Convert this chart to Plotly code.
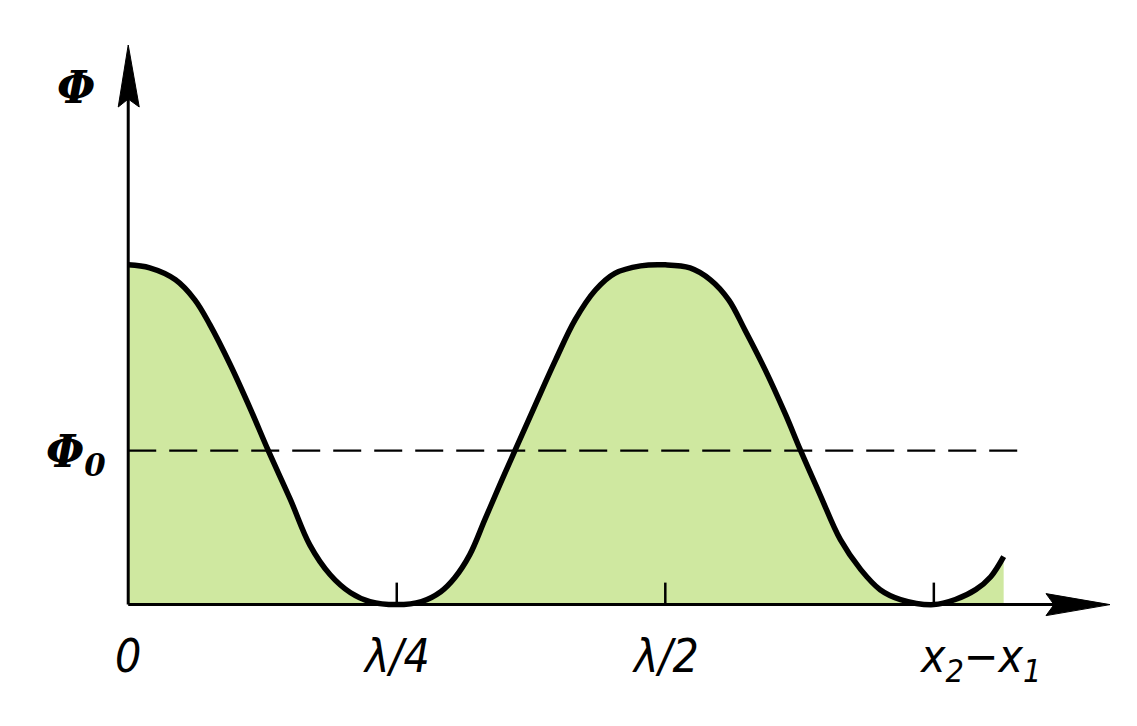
import plotly.graph_objects as go

# Path difference x2 - x1 in units of wavelength lambda
x_lambda = [0, 0.020, 0.044, 0.062, 0.076, 0.095, 0.114, 0.130, 0.151, 0.169, 0.188, 0.207, 0.225,
            0.25, 0.273, 0.291, 0.304, 0.318, 0.332, 0.346, 0.360, 0.379, 0.398, 0.416, 0.435,
            0.453, 0.477, 0.500, 0.523, 0.542, 0.559, 0.574, 0.593, 0.612, 0.626, 0.644, 0.663,
            0.682, 0.700, 0.719, 0.75, 0.770, 0.789, 0.803, 0.815]
# Flux Phi relative to its maximum
phi = [1.0, 0.991, 0.956, 0.897, 0.824, 0.706, 0.574, 0.456, 0.309, 0.176, 0.088, 0.035, 0.009,
       0.0, 0.009, 0.038, 0.079, 0.147, 0.25, 0.353, 0.453, 0.588, 0.721, 0.838, 0.926,
       0.975, 0.997, 1.0, 0.991, 0.956, 0.897, 0.809, 0.691, 0.559, 0.453, 0.324, 0.191,
       0.103, 0.044, 0.015, 0.0, 0.015, 0.044, 0.082, 0.141]
phi0 = 0.453
phi0_end = 0.831
tick_vals = [0.25, 0.5, 0.75]
x_labels = ["0", "λ/4", "λ/2", "x<sub>2</sub>−x<sub>1</sub>"]
x_label_pos = [0, 0.25, 0.5, 0.793]

X_MIN, X_MAX = -0.03, 0.914
Y_MIN, Y_MAX = -0.06, 1.647
FONT = "Liberation Sans Narrow, DejaVu Sans Condensed, Liberation Sans, sans-serif"

fig = go.Figure()
fig.add_trace(go.Scatter(x=x_lambda, y=phi, mode="lines",
                         line=dict(color="black", width=5.5, shape="spline", smoothing=1.0),
                         fill="tozeroy", fillcolor="#cfe8a0", hoverinfo="skip"))
fig.add_trace(go.Scatter(x=[0, phi0_end], y=[phi0, phi0], mode="lines",
                         line=dict(color="black", width=2.2, dash="28px,13px"), hoverinfo="skip"))

shapes = [
    dict(type="line", xref="x", yref="y", x0=0, x1=0, y0=0, y1=Y_MAX - 0.05, line=dict(color="black", width=3)),
    dict(type="line", xref="x", yref="y", x0=0, x1=X_MAX - 0.03, y0=0, y1=0, line=dict(color="black", width=3)),
    dict(type="path", xref="x", yref="y", xsizemode="pixel", ysizemode="pixel", xanchor=0, yanchor=Y_MAX,
         path="M 0 0 L -10 -62 L 0 -54 L 11 -62 Z", fillcolor="black", line=dict(color="black", width=1)),
    dict(type="path", xref="x", yref="y", xsizemode="pixel", ysizemode="pixel", xanchor=X_MAX, yanchor=0,
         path="M 0 0 L -64 11 L -56 0 L -64 -11 Z", fillcolor="black", line=dict(color="black", width=1)),
]
for tv in tick_vals:
    shapes.append(dict(type="line", xref="x", yref="y", xsizemode="scaled", ysizemode="pixel",
                       x0=tv, x1=tv, yanchor=0, y0=0, y1=22, line=dict(color="black", width=2.5)))

annotations = []
for lbl, xp in zip(x_labels, x_label_pos):
    annotations.append(dict(x=xp, y=0, xref="x", yref="y", text=f"<i>{lbl}</i>", showarrow=False,
                            yanchor="top", yshift=-22, font=dict(family=FONT, size=46, color="black")))
annotations.append(dict(x=0, y=Y_MAX, xref="x", yref="y", text="<b><i>Φ</i></b>", showarrow=False,
                        xanchor="center", yanchor="middle", xshift=-52, yshift=-42,
                        font=dict(family="DejaVu Serif, serif", size=44, color="black")))
annotations.append(dict(x=0, y=phi0, xref="x", yref="y", text="<b><i>Φ<sub>0</sub></i></b>", showarrow=False,
                        xanchor="center", yanchor="middle", xshift=-52, yshift=-4,
                        font=dict(family="DejaVu Serif, serif", size=44, color="black")))

fig.update_layout(
    width=1121, height=710,
    margin=dict(l=88, r=19, t=37, b=93),
    paper_bgcolor="white", plot_bgcolor="white",
    showlegend=False,
    shapes=shapes, annotations=annotations,
    xaxis=dict(range=[X_MIN, X_MAX], showgrid=False, zeroline=False, showline=False,
               showticklabels=False, ticks="", fixedrange=True),
    yaxis=dict(range=[Y_MIN, Y_MAX], showgrid=False, zeroline=False, showline=False,
               showticklabels=False, ticks="", fixedrange=True),
)
fig.write_html("out.html")
